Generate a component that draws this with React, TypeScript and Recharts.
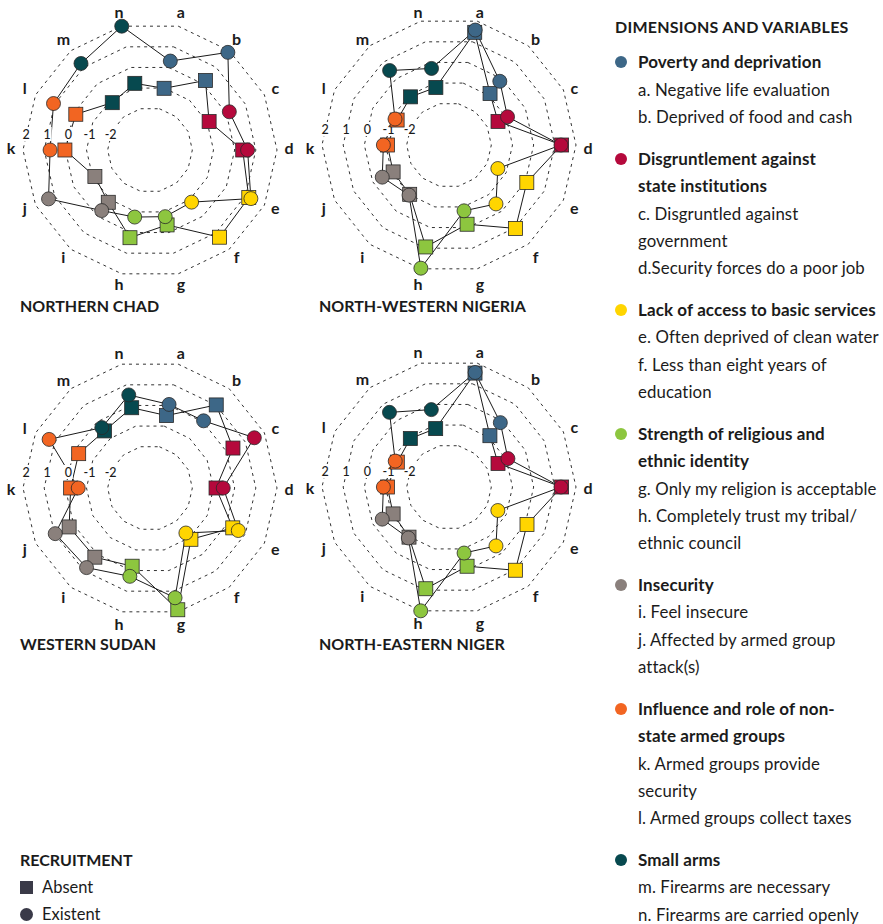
import React from 'react'
import { RadarChart, Radar, PolarGrid, PolarAngleAxis, PolarRadiusAxis } from 'recharts'

const AXES = ['a', 'b', 'c', 'd', 'e', 'f', 'g', 'h', 'i', 'j', 'k', 'l', 'm', 'n']
const RADIAL_TICKS = [-2, -1, 0, 1, 2]

// one colour per dimension, each dimension covers two variables
const DIMENSION_COLORS = ['#3d6787', '#b5093c', '#ffd500', '#8dc63f', '#8a807c', '#f26522', '#07494f']

const CHAD_ABSENT = [-1.01, 0.2, -0.9, 0.38, 1.18, 1.27, -0.37, 0.25, -0.84, -1.11, 0.02, -0.11, -1.14, -0.77]
const CHAD_EXISTENT = [0.31, 1.9, 0.16, 0.61, 1.29, -0.85, -0.77, -0.75, -0.34, 1.32, 0.72, 1.06, 1.23, 2.0]

const NIGERIA_ABSENT = [1.46, -0.89, -1.43, 1.32, 0.08, 1.04, -0.16, 0.94, -1.02, -1.07, -1.09, -1.28, -1.09, -1.21]
const NIGERIA_EXISTENT = [1.57, -0.15, -0.93, 1.29, -1.44, -0.44, -0.81, 1.97, -0.97, -0.5, -0.9, -1.17, 0.5, -0.29]

const SUDAN_ABSENT = [-0.49, 1.02, 0.35, -0.88, 0.34, -0.9, 1.9, -0.21, 0.18, 0.24, -0.25, -0.26, -0.55, -0.11]
const SUDAN_EXISTENT = [0.05, 0.06, 1.47, -0.54, 0.63, -1.28, 1.32, 0.28, 0.81, 0.97, -0.61, 1.29, -0.35, 0.51]

const NIGER_ABSENT = [1.52, -0.9, -1.43, 1.32, 0.09, 1.03, -0.16, 0.93, -0.97, -1.07, -1.09, -1.29, -1.07, -1.17]
const NIGER_EXISTENT = [1.55, -0.11, -0.91, 1.29, -1.44, -0.44, -0.8, 2.0, -0.92, -0.5, -0.9, -1.18, 0.51, -0.25]

const LEGEND_GROUPS = [
  { title: ['Poverty and deprivation'], items: ['a. Negative life evaluation', 'b. Deprived of food and cash'] },
  {
    title: ['Disgruntlement against', 'state institutions'],
    items: ['c. Disgruntled against', 'government', 'd.Security forces do a poor job'],
  },
  {
    title: ['Lack of access to basic services'],
    items: ['e. Often deprived of clean water', 'f. Less than eight years of', 'education'],
  },
  {
    title: ['Strength of religious and', 'ethnic identity'],
    items: ['g. Only my religion is acceptable', 'h. Completely trust my tribal/', 'ethnic council'],
  },
  { title: ['Insecurity'], items: ['i. Feel insecure', 'j. Affected by armed group', 'attack(s)'] },
  {
    title: ['Influence and role of non-', 'state armed groups'],
    items: ['k. Armed groups provide', 'security', 'l. Armed groups collect taxes'],
  },
  { title: ['Small arms'], items: ['m. Firearms are necessary', 'n. Firearms are carried openly'] },
]

const FONT = "Lato, 'Open Sans', sans-serif"
const TEXT = '#1b1b1b'
const LINE_H = 27.3

function buildData(absent: number[], existent: number[]) {
  return AXES.map((axis, i) => ({ axis, absent: absent[i], existent: existent[i] }))
}

const SquareDot = (props: any) => {
  const { cx, cy, index } = props
  if (cx == null || cy == null) return null
  return (
    <rect
      key={`sq-${index}`}
      x={cx - 7}
      y={cy - 7}
      width={14}
      height={14}
      fill={DIMENSION_COLORS[Math.floor(index / 2)]}
      stroke="#2a2a2a"
      strokeWidth={0.8}
    />
  )
}

const CircleDot = (props: any) => {
  const { cx, cy, index } = props
  if (cx == null || cy == null) return null
  return (
    <circle
      key={`ci-${index}`}
      cx={cx}
      cy={cy}
      r={7}
      fill={DIMENSION_COLORS[Math.floor(index / 2)]}
      stroke="#2a2a2a"
      strokeWidth={0.8}
    />
  )
}

const AngleTick = (props: any) => {
  const { x, y, payload, shift = 0 } = props
  return (
    <text
      x={x}
      y={y + shift}
      textAnchor="middle"
      dominantBaseline="central"
      fontFamily={FONT}
      fontWeight={700}
      fontSize={16}
      fill={TEXT}
    >
      {payload.value}
    </text>
  )
}

const RadiusTick = (props: any) => {
  const { x, y, payload } = props
  const label = String(payload.value)
  const w = label.length * 7 + 2
  return (
    <g>
      <rect x={x + 3 - w / 2} y={y - 23} width={w} height={14} fill="#fff" />
      <text
        x={x + 3}
        y={y - 16}
        textAnchor="middle"
        dominantBaseline="central"
        fontFamily={FONT}
        fontWeight={500}
        fontSize={12.5}
        fill={TEXT}
      >
        {label}
      </text>
    </g>
  )
}

function RegionRadar({
  absent,
  existent,
  left,
  top,
  cy,
  labelShift,
  title,
}: {
  absent: number[]
  existent: number[]
  left: number
  top: number
  cy: number
  labelShift: number
  title: string
}) {
  const data = buildData(absent, existent)
  return (
    <div style={{ position: 'absolute', left, top, width: 300, height: 330 }}>
      <RadarChart
        width={300}
        height={300}
        data={data}
        cx={150}
        cy={cy}
        outerRadius={127}
        startAngle={77.142857}
        endAngle={-282.857143}
        margin={{ top: 0, right: 0, bottom: 0, left: 0 }}
      >
        <PolarGrid gridType="polygon" radialLines={false} stroke="#333" strokeWidth={1} strokeDasharray="3 4" />
        <PolarAngleAxis
          dataKey="axis"
          tick={<AngleTick shift={labelShift} />}
          tickLine={false}
          axisLine={false}
          tickSize={12}
        />
        <Radar
          dataKey="absent"
          stroke="#1a1a1a"
          strokeWidth={1}
          fill="none"
          fillOpacity={0}
          dot={SquareDot}
          isAnimationActive={false}
        />
        <Radar
          dataKey="existent"
          stroke="#1a1a1a"
          strokeWidth={1}
          fill="none"
          fillOpacity={0}
          dot={CircleDot}
          isAnimationActive={false}
        />
        <PolarRadiusAxis
          angle={180}
          type="number"
          domain={[-4, 2]}
          ticks={RADIAL_TICKS}
          allowDataOverflow
          axisLine={false}
          tickLine={false}
          tick={<RadiusTick />}
        />
      </RadarChart>
      <div
        style={{
          position: 'absolute',
          left: 20,
          top: 295,
          fontFamily: FONT,
          fontWeight: 700,
          fontSize: 16,
          lineHeight: '22px',
          color: TEXT,
          whiteSpace: 'nowrap',
        }}
      >
        {title}
      </div>
    </div>
  )
}

export default function App() {
  return (
    <div
      style={{
        position: 'absolute',
        left: 0,
        top: 0,
        width: 883,
        height: 924,
        background: '#fff',
        fontFamily: FONT,
        color: TEXT,
        overflow: 'hidden',
      }}
    >
      <RegionRadar
        absent={CHAD_ABSENT}
        existent={CHAD_EXISTENT}
        left={0}
        top={0}
        cy={150}
        labelShift={-2.5}
        title="NORTHERN CHAD"
      />
      <RegionRadar
        absent={NIGERIA_ABSENT}
        existent={NIGERIA_EXISTENT}
        left={299}
        top={0}
        cy={145}
        labelShift={2.5}
        title="NORTH-WESTERN NIGERIA"
      />
      <RegionRadar
        absent={SUDAN_ABSENT}
        existent={SUDAN_EXISTENT}
        left={0}
        top={338}
        cy={150}
        labelShift={0}
        title="WESTERN SUDAN"
      />
      <RegionRadar
        absent={NIGER_ABSENT}
        existent={NIGER_EXISTENT}
        left={299}
        top={338}
        cy={149}
        labelShift={0}
        title="NORTH-EASTERN NIGER"
      />

      {/* recruitment key */}
      <div style={{ position: 'absolute', left: 20, top: 860 - LINE_H / 2, lineHeight: `${LINE_H}px`, fontSize: 16.5 }}>
        <div style={{ fontWeight: 700, fontSize: 16 }}>RECRUITMENT</div>
        <div style={{ display: 'flex', alignItems: 'center' }}>
          <span style={{ display: 'inline-block', width: 13, height: 13, background: '#3a3a48', marginRight: 9 }} />
          Absent
        </div>
        <div style={{ display: 'flex', alignItems: 'center' }}>
          <span
            style={{ display: 'inline-block', width: 13, height: 13, borderRadius: '50%', background: '#3a3a48', marginRight: 9 }}
          />
          Existent
        </div>
      </div>

      {/* dimensions legend */}
      <div style={{ position: 'absolute', left: 615, top: 27 - LINE_H / 2, fontSize: 16.8, lineHeight: `${LINE_H}px` }}>
        <div style={{ fontWeight: 700, fontSize: 16, letterSpacing: 0.25, marginBottom: 7.7 }}>DIMENSIONS AND VARIABLES</div>
        {LEGEND_GROUPS.map((g, gi) => (
          <div key={gi} style={{ position: 'relative', paddingLeft: 23, marginBottom: 14.7 }}>
            <span
              style={{
                position: 'absolute',
                left: 0,
                top: LINE_H / 2 - 6,
                width: 12,
                height: 12,
                borderRadius: '50%',
                background: DIMENSION_COLORS[gi],
              }}
            />
            {g.title.map((t) => (
              <div key={t} style={{ fontWeight: 700, fontSize: 17, letterSpacing: 0.1, whiteSpace: 'nowrap' }}>
                {t}
              </div>
            ))}
            {g.items.map((t) => (
              <div key={t} style={{ letterSpacing: 0.1, whiteSpace: 'nowrap' }}>
                {t}
              </div>
            ))}
          </div>
        ))}
      </div>
    </div>
  )
}
